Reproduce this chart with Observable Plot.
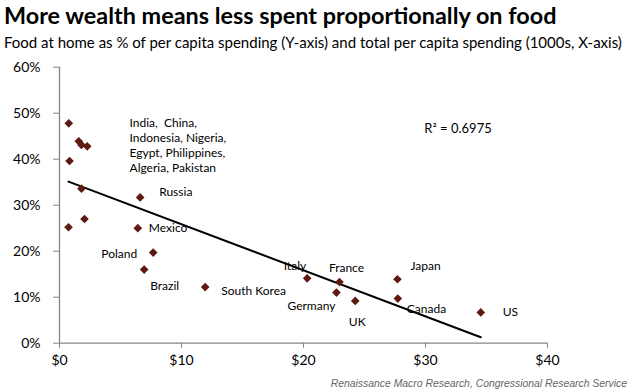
<!DOCTYPE html>
<html>
<head>
<meta charset="utf-8">
<script src="https://cdn.jsdelivr.net/npm/d3@7"></script>
<script src="https://cdn.jsdelivr.net/npm/@observablehq/plot@0.6"></script>
<style>
  html, body { margin: 0; padding: 0; background: #fff; }
  #wrap { position: relative; width: 632px; height: 392px; overflow: hidden; font-family: Lato, "Open Sans", sans-serif; }
  #title { position: absolute; left: 4px; top: 3.8px; font-size: 23.4px; line-height: 23.4px; font-weight: 700; color: #000; white-space: nowrap; }
  #subtitle { position: absolute; left: 4px; top: 34.5px; font-size: 15px; line-height: 15px; color: #000; white-space: nowrap; }
  #chart { position: absolute; left: 0; top: 54px; }
  #caption { position: absolute; right: 5px; top: 379px; font-family: "Liberation Sans", Arial, sans-serif; font-style: italic; font-size: 10.4px; line-height: 10.4px; color: #666; white-space: nowrap; }
</style>
</head>
<body>
<div id="wrap">
  <div id="title"></div>
  <div id="subtitle"></div>
  <div id="chart"></div>
  <div id="caption"></div>
</div>
<script>
// ---- Data ----
const titleText = "More wealth means less spent proportionally on food";
const subtitleText = "Food at home as % of per capita spending (Y-axis) and total per capita spending (1000s, X-axis)";
const captionText = "Renaissance Macro Research, Congressional Research Service";

const countries = ["", "", "", "", "", "", "", "", "Russia", "Mexico", "Poland", "Brazil", "South Korea", "Italy", "France", "Germany", "UK", "Japan", "Canada", "US"];
const spending  = [0.76, 1.58, 1.80, 2.27, 0.82, 1.80, 0.74, 2.05, 6.61, 6.42, 7.68, 6.94, 11.94, 20.30, 22.95, 22.70, 24.24, 27.70, 27.73, 34.53];
const foodShare = [47.8, 43.9, 43.1, 42.8, 39.6, 33.6, 25.2, 27.0, 31.7, 25.0, 19.7, 16.0, 12.2, 14.1, 13.3, 11.0, 9.2, 13.9, 9.7, 6.7];

const groupNote = "India,  China,\nIndonesia, Nigeria,\nEgypt, Philippines,\nAlgeria, Pakistan";
const r2Text = "R² = 0.6975";

const xTicks = [0, 10, 20, 30, 40];
const yTicks = [0, 10, 20, 30, 40, 50, 60];

// ---- Build ----
document.getElementById("title").textContent = titleText;
document.getElementById("subtitle").textContent = subtitleText;
document.getElementById("caption").textContent = captionText;

const rows = countries.map((c, i) => ({country: c, x: spending[i], y: foodShare[i]}));

// label placement (styling, not data)
const labelStyle = {
  "Russia":      {dx: 19,  dy: -5,  anchor: "start"},
  "Mexico":      {dx: 11,  dy: 0,   anchor: "start"},
  "Poland":      {dx: -16, dy: 2,   anchor: "end"},
  "Brazil":      {dx: 6,   dy: 17,  anchor: "start"},
  "South Korea": {dx: 16,  dy: 4,   anchor: "start"},
  "Italy":       {dx: -1,  dy: -12, anchor: "end"},
  "France":      {dx: 7,   dy: -14, anchor: "middle"},
  "Germany":     {dx: -1,  dy: 14,  anchor: "end"},
  "UK":          {dx: 2,   dy: 21,  anchor: "middle"},
  "Japan":       {dx: 13,  dy: -13, anchor: "start"},
  "Canada":      {dx: 9,   dy: 11,  anchor: "start"},
  "US":          {dx: 22,  dy: 0,   anchor: "start"}
};

const axisColor = "#868686";
const markColor = "#5e1a12";

const labelMarks = rows.filter(d => d.country).map(d => {
  const s = labelStyle[d.country];
  return Plot.text([d], {x: "x", y: "y", text: "country", dx: s.dx, dy: s.dy, textAnchor: s.anchor, fontSize: 12, fill: "#000"});
});

const chart = Plot.plot({
  width: 632,
  height: 322,
  marginTop: 12.7,
  marginBottom: 33.3,
  marginLeft: 59,
  marginRight: 85,
  style: {fontFamily: "Lato, 'Open Sans', sans-serif", fontSize: "14px", color: "#000", background: "#fff"},
  x: {domain: [0, 40], axis: null},
  y: {domain: [0, 60], axis: null},
  marks: [
    Plot.axisY({ticks: yTicks, tickFormat: d => d + "%", label: null, tickSize: 6, tickPadding: 13, stroke: axisColor, fill: "#000", fontSize: 14}),
    Plot.axisX({ticks: xTicks, tickFormat: d => "$" + d, label: null, tickSize: 5, tickPadding: 7, stroke: axisColor, fill: "#000", fontSize: 14}),
    Plot.ruleX([0], {y1: 0, y2: 60, stroke: axisColor, strokeWidth: 1.3}),
    Plot.ruleY([0], {x1: 0, x2: 40, stroke: axisColor, strokeWidth: 1.3}),
    Plot.linearRegressionY(rows, {x: "x", y: "y", ci: 0, stroke: "#000", strokeWidth: 2}),
    Plot.dot(rows, {x: "x", y: "y", symbol: "diamond2", r: 3.9, fill: markColor, stroke: "none"}),
    ...labelMarks,
    Plot.text([groupNote], {x: 5.74, y: 49.3, text: d => d, textAnchor: "start", lineAnchor: "top", lineHeight: 1.25, fontSize: 12, fill: "#000"}),
    Plot.text([r2Text], {x: 29.9, y: 46.6, text: d => d, textAnchor: "start", fontSize: 13, fill: "#000"})
  ]
});
document.getElementById("chart").appendChild(chart);
</script>
</body>
</html>
